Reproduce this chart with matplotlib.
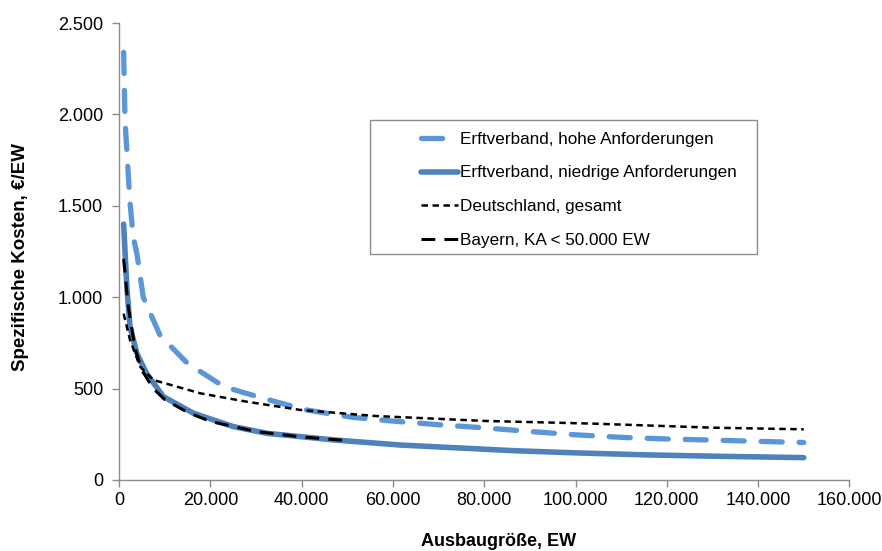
import matplotlib
matplotlib.use("Agg")
import matplotlib.pyplot as plt
from matplotlib.patches import Rectangle
from matplotlib.ticker import FuncFormatter

# Erftverband, hohe Anforderungen
x_hohe = [1000, 1300, 2400, 3100, 3900, 5300, 9000, 15000, 23000, 31500, 41000,
          51000, 60000, 70000, 80000, 90000, 100000, 110000, 120000, 130000,
          140000, 150000]
y_hohe = [2340, 1970, 1515, 1330, 1240, 1000, 790, 638, 510, 447, 383,
          343, 322, 302, 285, 265, 247, 233, 224, 218, 211, 205]

# Erftverband, niedrige Anforderungen
x_niedrig = [1000, 1700, 2400, 3900, 6000, 9700, 16300, 20700, 25000, 32400,
             47000, 61600, 86500, 100000, 115700, 130000, 150000]
y_niedrig = [1400, 1057, 838, 693, 584, 456, 365, 328, 292, 255,
             219, 191, 160, 148, 137, 130, 122]

# Deutschland, gesamt
x_de = [1000, 2400, 4600, 7500, 17800, 28000, 39700, 56000, 80000, 104000,
        130000, 150000]
y_de = [910, 766, 620, 547, 474, 428, 383, 350, 323, 308, 286, 277]

# Bayern, KA < 50.000 EW
x_by = [1000, 2000, 3500, 5000, 7500, 10000, 15000, 20000, 30000, 40000, 50000]
y_by = [1210, 950, 720, 600, 500, 440, 370, 320, 265, 235, 215]

plt.rcParams["font.family"] = ["Liberation Sans", "DejaVu Sans"]


def tausender(v, pos):
    return f"{int(round(v)):,}".replace(",", ".")


def main():
    fig = plt.figure(figsize=(8.82, 5.51), dpi=100)
    ax = fig.add_axes([0.135, 0.129, 0.828, 0.829])

    hell = "#5B96D8"
    dunkel = "#4F81BD"

    l1, = ax.plot(x_hohe, y_hohe, color=hell, lw=3.8, dashes=(4.0, 3.2),
                  dash_capstyle="round", label="Erftverband, hohe Anforderungen")
    l2, = ax.plot(x_niedrig, y_niedrig, color=dunkel, lw=4.0, solid_capstyle="round",
                  label="Erftverband, niedrige Anforderungen")
    l3, = ax.plot(x_de, y_de, color="black", lw=1.8, dashes=(2.6, 1.8),
                  label="Deutschland, gesamt")
    l4, = ax.plot(x_by, y_by, color="black", lw=2.2, dashes=(4.5, 3.0),
                  label="Bayern, KA < 50.000 EW")

    ax.set_xlim(0, 160000)
    ax.set_ylim(0, 2500)
    ax.set_xticks(range(0, 160001, 20000))
    ax.set_yticks(range(0, 2501, 500))
    ax.xaxis.set_major_formatter(FuncFormatter(tausender))
    ax.yaxis.set_major_formatter(FuncFormatter(tausender))

    for s in ["top", "right"]:
        ax.spines[s].set_visible(False)
    for s in ["left", "bottom"]:
        ax.spines[s].set_color("#8C8C8C")
        ax.spines[s].set_linewidth(1.0)
    ax.tick_params(axis="both", colors="#8C8C8C", length=5, width=1.0,
                   labelcolor="black", labelsize=13)
    ax.tick_params(axis="x", pad=4)
    ax.tick_params(axis="y", pad=6.5)

    ax.set_xlabel("Ausbaugröße, EW", fontsize=13, fontweight="bold")
    ax.set_ylabel("Spezifische Kosten, €/EW", fontsize=13.5, fontweight="bold")
    ax.xaxis.set_label_coords(0.52, -0.134)
    ax.yaxis.set_label_coords(-0.135, 0.488)
    ax.xaxis.label.set_verticalalignment("center")
    ax.yaxis.label.set_verticalalignment("center")

    ax.add_patch(Rectangle((0.344, 0.494), 0.530, 0.294, transform=ax.transAxes,
                           fill=False, edgecolor="#8C8C8C", lw=1.0, zorder=4))
    ax.legend(handles=[l1, l2, l3, l4], loc="upper left",
              bbox_to_anchor=(0.392, 0.796), frameon=False, fontsize=12.3,
              handlelength=2.2, handletextpad=0.1, labelspacing=1.1)

    fig.savefig("out.png", dpi=100)
    plt.close(fig)


if __name__ == "__main__":
    main()
